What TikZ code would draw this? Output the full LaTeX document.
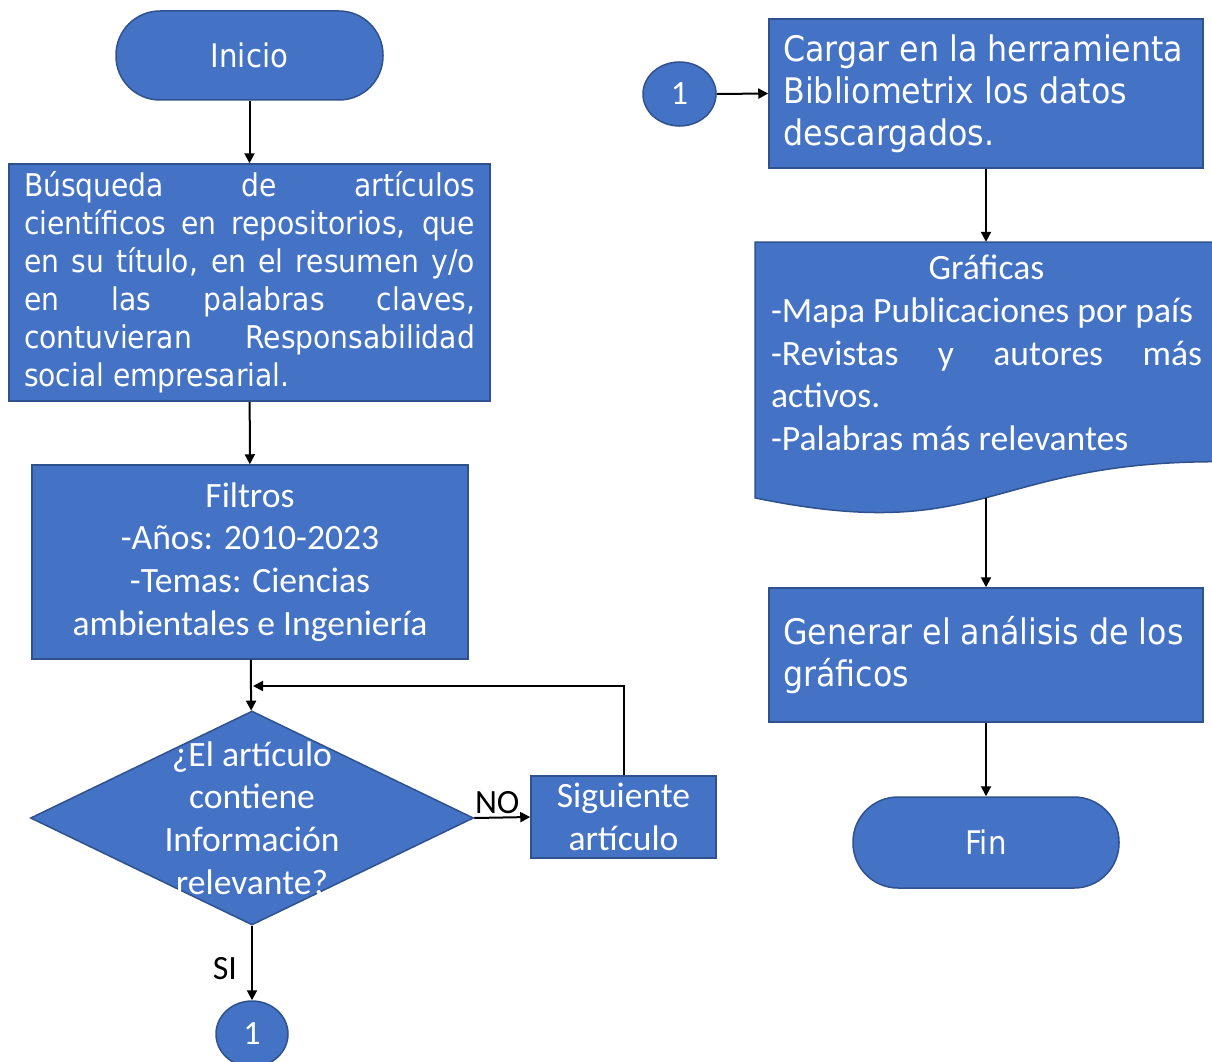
\documentclass[tikz,border=0pt]{standalone}
\usepackage{fontspec}
\setmainfont{Carlito}
\newfontfamily\tah{DejaVu Sans Condensed}
\usetikzlibrary{shapes.geometric,arrows.meta,calc}
\definecolor{fillb}{HTML}{4472C4}
\definecolor{edgeb}{HTML}{2F528F}
\begin{document}
\begin{tikzpicture}[x=1pt,y=-1pt,
  box/.style={draw=edgeb, fill=fillb, line width=1.5pt, text=white, inner sep=0pt},
  arr/.style={line width=2pt, -{Triangle[length=10pt,width=10pt]}},
  txt/.style={text=white, inner sep=0pt},
  calfont/.style={font=\fontsize{35.6}{42.7}\selectfont},
  tahfont/.style={font=\tah\fontsize{35.2}{42}\selectfont},
  lbl/.style={text=black, inner sep=2pt, font=\fontsize{34}{38}\selectfont}]
\useasboundingbox (0,0) rectangle (1212,1062);

% left column
\node[box, rounded corners=44pt, minimum width=267pt, minimum height=89pt,
      font=\tah\fontsize{32.5}{36}\selectfont] (inicio) at (249.5,55.5) {Inicio};

\node[box, minimum width=481pt, minimum height=237pt, text width=451pt, align=justify,
      font=\tah\fontsize{31.3}{38}\selectfont] (busq) at (249.5,282.5)
  {\hyphenpenalty=10000\exhyphenpenalty=10000
   Búsqueda de artículos\linebreak científicos en repositorios, que\linebreak
   en su título, en el resumen y/o\linebreak en las palabras claves,\linebreak
   contuvieran Responsabilidad\linebreak social empresarial.};

\node[box, minimum width=436pt, minimum height=194pt, align=center, calfont] (filt) at (250,562)
  {Filtros\\-Años: 2010-2023\\-Temas: Ciencias\\ambientales e Ingeniería};

\node[box, diamond, minimum width=443pt, minimum height=214pt] (dec) at (252,818) {};
\node[txt, align=center, calfont] (dect) at (dec.center)
  {¿El artículo\\contiene\\Información\\relevante?};

\node[box, minimum width=185pt, minimum height=82pt, align=center, calfont] (sig) at (623.5,817)
  {Siguiente\\artículo};

\node[box, ellipse, minimum width=72pt, minimum height=66pt,
      font=\fontsize{34}{38}\selectfont] (c1) at (252,1034) {1};

% right column
\node[box, ellipse, minimum width=73pt, minimum height=64pt,
      font=\fontsize{34}{38}\selectfont] (c2) at (679.5,94) {1};

\node[box, minimum width=434pt, minimum height=149pt] (carg) at (986,93.5) {};
\node[txt, anchor=west, align=left, tahfont] (cargt) at ($(carg.west)+(15,0)$)
  {Cargar en la herramienta\\Bibliometrix los datos\\descargados.};

\node[inner sep=0pt, minimum width=462pt, minimum height=255.8pt] (graf) at (986,369.9) {};
\filldraw[draw=edgeb, fill=fillb, line width=1.5pt]
  (755,242) -- (1217,242) -- (1217,461.7)
  .. controls (986,461.7) and (986,545.5) .. (755,497.9) -- cycle;
\node[txt, text width=431pt, align=justify, calfont] (graft) at (986.5,353)
  {\parindent=0pt\hyphenpenalty=10000
   \centerline{Gráficas}
   -Mapa Publicaciones por país\par
   -Revistas y autores más\linebreak activos.\par
   -Palabras más relevantes};

\node[box, minimum width=434pt, minimum height=134pt] (gen) at (986,655) {};
\node[txt, anchor=west, align=left, tahfont] (gent) at ($(gen.west)+(15,0)$)
  {Generar el análisis de los\\gráficos};

\node[box, rounded corners=45pt, minimum width=266pt, minimum height=91pt,
      font=\tah\fontsize{32.5}{36}\selectfont] (fin) at (986,842.5) {Fin};

% connectors
\draw[arr] (inicio) -- (busq);
\draw[arr] (busq) -- (filt);
\draw[arr] (filt) -- (dec);
\coordinate (loopend) at (253,686);
\draw[arr] (sig.north) |- (loopend);
\draw[arr] (dec.east) -- node[lbl, above, xshift=-5pt, yshift=1pt] {NO} (sig.west);
\draw[arr] (dec.south) -- node[lbl, left, xshift=-12pt, yshift=-6pt] {SI} (c1.north);
\draw[arr] (c2.east) -- (carg.west);
\draw[arr] (carg.south) -- (graf.north);
\draw[arr] (graf.south) -- (gen.north);
\draw[arr] (gen.south) -- (fin.north);
\end{tikzpicture}
\end{document}
